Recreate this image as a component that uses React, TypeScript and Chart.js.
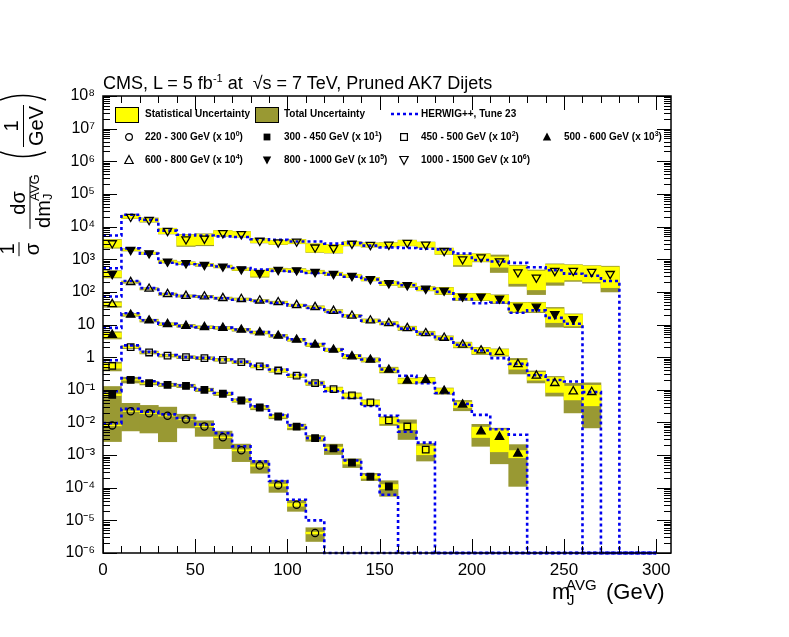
import React, { useEffect, useRef } from 'react';
import { Chart, registerables } from 'chart.js';

Chart.register(...registerables);

const FONT = "'Liberation Sans', Arial, Helvetica, sans-serif";
const OLIVE = 'rgb(153,153,51)';
const YELLOW = 'rgb(255,255,0)';
const HERWIG_BLUE = 'rgb(0,0,240)';
const FLOOR = 1e-6;

// bin centres of the 10 GeV wide jet-mass bins
const massBins = [5, 15, 25, 35, 45, 55, 65, 75, 85, 95, 105, 115, 125, 135, 145, 155, 165, 175, 185, 195, 205, 215, 225, 235, 245, 255, 265, 275];

const xTicks = [0, 50, 100, 150, 200, 250, 300];
const yTicks = [1e-6, 1e-5, 1e-4, 1e-3, 1e-2, 1e-1, 1, 10, 1e2, 1e3, 1e4, 1e5, 1e6, 1e7, 1e8];
const yTickText = ['10⁻⁶', '10⁻⁵', '10⁻⁴', '10⁻³', '10⁻²', '10⁻¹', '1', '10', '10²', '10³', '10⁴', '10⁵', '10⁶', '10⁷', '10⁸'];

// values as plotted (already multiplied by the legend factor), relative stat / total errors
const meas220 = [0.0081, 0.022, 0.019, 0.016, 0.0123, 0.0075, 0.0035, 0.0014, 0.00048, 0.00012, 0.00003, 0.0000041];
const stat220 = [0.03, 0.02, 0.02, 0.02, 0.02, 0.02, 0.03, 0.04, 0.05, 0.07, 0.1, 0.06];
const tot220 = [0.68, 0.75, 0.75, 0.84, 0.45, 0.5, 0.55, 0.55, 0.42, 0.4, 0.37, 0.45];
const herwig220 = [0.0095, 0.026, 0.0215, 0.0177, 0.0135, 0.0086, 0.0047, 0.00185, 0.00064, 0.00016, 0.000043, 0.00001];

const meas300 = [0.07, 0.202, 0.16, 0.142, 0.132, 0.1, 0.0755, 0.047, 0.0287, 0.0152, 0.0074, 0.0033, 0.0016, 0.00059, 0.00022, 0.000109];
const stat300 = [0.05, 0.03, 0.03, 0.03, 0.03, 0.03, 0.04, 0.05, 0.05, 0.06, 0.07, 0.08, 0.1, 0.1, 0.12, 0.15];
const tot300 = [0.8, 0.2, 0.12, 0.12, 0.12, 0.12, 0.12, 0.12, 0.15, 0.15, 0.2, 0.2, 0.35, 0.3, 0.25, 0.5];
const herwig300 = [0.09, 0.227, 0.182, 0.145, 0.135, 0.1, 0.08, 0.05, 0.031, 0.017, 0.0081, 0.0033, 0.00146, 0.00068, 0.00025, 0.000061];

const meas450 = [0.54, 2.03, 1.39, 1.12, 1.0, 0.93, 0.83, 0.7, 0.52, 0.39, 0.27, 0.16, 0.105, 0.067, 0.041, 0.0115, 0.0075, 0.00146];
const stat450 = [0.15, 0.04, 0.04, 0.04, 0.04, 0.04, 0.05, 0.05, 0.06, 0.07, 0.08, 0.09, 0.1, 0.12, 0.14, 0.2, 0.2, 0.3];
const tot450 = [0.3, 0.1, 0.1, 0.1, 0.1, 0.1, 0.1, 0.1, 0.1, 0.12, 0.12, 0.15, 0.15, 0.2, 0.2, 0.3, 0.6, 0.55];
const herwig450 = [0.8, 2.3, 1.45, 1.15, 1.0, 0.95, 0.85, 0.72, 0.55, 0.42, 0.29, 0.16, 0.09, 0.056, 0.032, 0.016, 0.0052, 0.0024];

const meas500 = [4.8, 19.8, 13.2, 10.3, 9.1, 8.3, 7.9, 6.9, 5.7, 4.5, 3.4, 2.39, 1.68, 1.05, 0.83, 0.41, 0.19, 0.2, 0.093, 0.035, 0.0053, 0.0036, 0.0011];
const stat500 = [0.15, 0.03, 0.03, 0.03, 0.03, 0.04, 0.04, 0.05, 0.05, 0.06, 0.07, 0.08, 0.09, 0.1, 0.1, 0.13, 0.15, 0.15, 0.17, 0.2, 0.35, 0.65, 0.25];
const tot500 = [0.25, 0.1, 0.1, 0.1, 0.1, 0.1, 0.1, 0.1, 0.1, 0.1, 0.1, 0.12, 0.12, 0.15, 0.15, 0.2, 0.2, 0.2, 0.22, 0.35, 0.65, 0.85, 0.9];
const herwig500 = [7.9, 22, 13.5, 10.5, 9.0, 8.2, 8.0, 7.0, 5.9, 4.6, 3.5, 2.5, 1.7, 1.1, 0.85, 0.42, 0.27, 0.16, 0.08, 0.037, 0.017, 0.0062, 0.0042];

const meas600 = [42, 199, 124, 85, 75, 72, 64, 60, 54, 48, 39, 34, 26, 18.5, 13.2, 11, 7.7, 5.4, 3.9, 2.4, 1.6, 1.43, 0.61, 0.27, 0.16, 0.089, 0.085];
const stat600 = [0.1, 0.02, 0.02, 0.02, 0.02, 0.03, 0.03, 0.03, 0.04, 0.04, 0.05, 0.05, 0.06, 0.07, 0.08, 0.08, 0.1, 0.1, 0.1, 0.15, 0.2, 0.2, 0.3, 0.27, 0.48, 0.45, 0.62];
const tot600 = [0.2, 0.08, 0.08, 0.08, 0.08, 0.08, 0.08, 0.08, 0.08, 0.08, 0.08, 0.1, 0.1, 0.1, 0.12, 0.12, 0.15, 0.15, 0.15, 0.2, 0.25, 0.25, 0.5, 0.4, 0.6, 0.78, 0.92];
const herwig600 = [72, 215, 130, 88, 74, 70, 64, 58, 52, 46, 38, 32, 24, 18, 13, 10.5, 7.5, 5.2, 3.7, 2.4, 1.6, 0.93, 0.62, 0.28, 0.2, 0.18, 0.085];

const meas800 = [356, 1940, 1530, 850, 757, 672, 600, 495, 374, 472, 460, 410, 356, 309, 245, 185, 161, 126, 110, 72, 72, 62.5, 35.5, 35.5, 20.8, 14.6];
const stat800 = [0.2, 0.05, 0.05, 0.06, 0.06, 0.06, 0.06, 0.07, 0.2, 0.08, 0.08, 0.08, 0.08, 0.1, 0.1, 0.12, 0.12, 0.12, 0.22, 0.22, 0.22, 0.25, 0.3, 0.3, 0.45, 0.38];
const tot800 = [0.25, 0.08, 0.08, 0.1, 0.1, 0.1, 0.1, 0.1, 0.25, 0.12, 0.12, 0.12, 0.12, 0.12, 0.12, 0.15, 0.15, 0.15, 0.25, 0.25, 0.25, 0.3, 0.35, 0.35, 0.6, 0.45];
const herwig800 = [530, 2150, 1480, 780, 700, 650, 600, 540, 480, 440, 420, 380, 340, 290, 240, 190, 160, 125, 100, 60, 45, 47, 23, 27, 16, 10.5];

const meas1000 = [3100, 20000, 16000, 7400, 4100, 4300, 6300, 5900, 3700, 3300, 3500, 2300, 2200, 3000, 2750, 2800, 3200, 2800, 1800, 1000, 1150, 870, 400, 275, 440, 445, 410, 355];
const stat1000 = [0.25, 0.1, 0.12, 0.18, 0.35, 0.35, 0.18, 0.18, 0.13, 0.13, 0.13, 0.28, 0.28, 0.13, 0.13, 0.13, 0.18, 0.18, 0.2, 0.33, 0.25, 0.35, 0.55, 0.58, 0.55, 0.48, 0.5, 0.62];
const tot1000 = [0.3, 0.12, 0.15, 0.2, 0.4, 0.4, 0.2, 0.2, 0.15, 0.15, 0.15, 0.3, 0.3, 0.15, 0.15, 0.15, 0.2, 0.2, 0.22, 0.4, 0.28, 0.55, 0.63, 0.7, 0.64, 0.53, 0.55, 0.72];
const herwig1000 = [5300, 23000, 16000, 7500, 5600, 5300, 5000, 4800, 4100, 3900, 3500, 3500, 3000, 3100, 2600, 2300, 2200, 2100, 2000, 1500, 950, 850, 770, 570, 460, 360, 310, 215];

type Marker = 'circle' | 'rect' | 'triangle';
interface Series {
  meas: number[];
  stat: number[];
  tot: number[];
  herwig: number[];
  style: Marker;
  rotation: number;
  filled: boolean;
  radius: number;
}

const series: Series[] = [
  { meas: meas220, stat: stat220, tot: tot220, herwig: herwig220, style: 'circle', rotation: 0, filled: false, radius: 3.6 },
  { meas: meas300, stat: stat300, tot: tot300, herwig: herwig300, style: 'rect', rotation: 0, filled: true, radius: 4.6 },
  { meas: meas450, stat: stat450, tot: tot450, herwig: herwig450, style: 'rect', rotation: 0, filled: false, radius: 4.6 },
  { meas: meas500, stat: stat500, tot: tot500, herwig: herwig500, style: 'triangle', rotation: 0, filled: true, radius: 4.8 },
  { meas: meas600, stat: stat600, tot: tot600, herwig: herwig600, style: 'triangle', rotation: 0, filled: false, radius: 4.8 },
  { meas: meas800, stat: stat800, tot: tot800, herwig: herwig800, style: 'triangle', rotation: 180, filled: true, radius: 4.8 },
  { meas: meas1000, stat: stat1000, tot: tot1000, herwig: herwig1000, style: 'triangle', rotation: 180, filled: false, radius: 4.8 },
];

function buildDatasets() {
  const out: any[] = [];
  for (const s of series) {
    const band = (err: number[]) => s.meas.map((v, i) => ({ x: massBins[i], y: [v * (1 - err[i]), v * (1 + err[i])] }));
    out.push({
      type: 'bar', order: 3, data: band(s.tot), backgroundColor: OLIVE, borderWidth: 0,
      grouped: false, barPercentage: 1, categoryPercentage: 1,
    });
    out.push({
      type: 'bar', order: 2, data: band(s.stat), backgroundColor: YELLOW, borderWidth: 0,
      grouped: false, barPercentage: 1, categoryPercentage: 1,
    });
    // histogram steps: left edge of every bin, then drop to the floor
    const steps = s.herwig.map((v, i) => ({ x: massBins[i] - 5, y: v }));
    steps.push({ x: massBins[s.herwig.length - 1] + 5, y: FLOOR }, { x: 300, y: FLOOR });
    out.push({
      type: 'line', order: 1, data: steps, stepped: true, borderColor: HERWIG_BLUE, borderWidth: 2.6,
      borderDash: [3, 3], pointRadius: 0, fill: false, clip: false,
    });
    out.push({
      type: 'line', order: 0, showLine: false,
      data: s.meas.map((v, i) => ({ x: massBins[i], y: v })),
      pointStyle: s.style, pointRotation: s.rotation, pointRadius: s.radius,
      pointBorderColor: '#000', pointBackgroundColor: s.filled ? '#000' : 'rgba(0,0,0,0)', pointBorderWidth: 1.3,
    });
  }
  return out;
}

// ROOT-like frame with inward ticks on all four sides
const rootFrame = {
  id: 'rootFrame',
  afterDatasetsDraw(chart: any) {
    const { ctx, chartArea: a } = chart;
    const xs = chart.scales.x;
    const ys = chart.scales.y;
    ctx.save();
    ctx.strokeStyle = '#000';
    ctx.lineWidth = 1;
    ctx.beginPath();
    for (let m = 0; m <= 300; m += 10) {
      const px = Math.round(xs.getPixelForValue(m)) + 0.5;
      const len = m % 50 === 0 ? 14 : 7;
      ctx.moveTo(px, a.bottom); ctx.lineTo(px, a.bottom - len);
      ctx.moveTo(px, a.top); ctx.lineTo(px, a.top + len);
    }
    for (let e = -6; e <= 8; e++) {
      for (let k = 1; k <= 9; k++) {
        const v = k * Math.pow(10, e);
        if (v > 1.0001e8) break;
        const py = Math.round(ys.getPixelForValue(v)) + 0.5;
        const len = k === 1 ? 14 : 7;
        ctx.moveTo(a.left, py); ctx.lineTo(a.left + len, py);
        ctx.moveTo(a.right, py); ctx.lineTo(a.right - len, py);
      }
    }
    ctx.stroke();
    ctx.lineWidth = 1.5;
    ctx.strokeRect(a.left, a.top, a.right - a.left, a.bottom - a.top);
    ctx.restore();
  },
};

function Frac({ num, den, size = 20 }: { num: React.ReactNode; den: React.ReactNode; size?: number }) {
  return (
    <span style={{ display: 'inline-flex', flexDirection: 'column', alignItems: 'center', lineHeight: 1, fontSize: size }}>
      <span style={{ padding: '0 1px 2px' }}>{num}</span>
      <span style={{ borderTop: '1.5px solid #000', padding: '2px 1px 0', alignSelf: 'stretch', textAlign: 'center' }}>{den}</span>
    </span>
  );
}

// thin round bracket, drawn unrotated as "(" or ")"
function Paren({ right = false }: { right?: boolean }) {
  const d = right ? 'M2,1 Q11,24 2,47' : 'M10,1 Q1,24 10,47';
  return (
    <svg width={12} height={48} style={{ display: 'block' }}>
      <path d={d} fill="none" stroke="#000" strokeWidth={1.6} />
    </svg>
  );
}

const rotated = (cx: number, cy: number): React.CSSProperties => ({
  position: 'absolute', left: cx, top: cy, transform: 'translate(-50%, -50%) rotate(-90deg)',
  whiteSpace: 'nowrap', display: 'flex', alignItems: 'center',
});

function Sup({ children, size = 7, rise = 4 }: { children: React.ReactNode; size?: number; rise?: number }) {
  return <span style={{ fontSize: size, position: 'relative', top: -rise }}>{children}</span>;
}

function MarkerIcon({ kind, x, y }: { kind: string; x: number; y: number }) {
  let shape: React.ReactNode = null;
  if (kind === 'circle') shape = <circle cx={6} cy={6} r={3.4} fill="none" stroke="#000" strokeWidth={1.2} />;
  if (kind === 'sqFull') shape = <rect x={2.6} y={2.6} width={6.8} height={6.8} fill="#000" />;
  if (kind === 'sqOpen') shape = <rect x={2.6} y={2.6} width={6.8} height={6.8} fill="none" stroke="#000" strokeWidth={1.2} />;
  if (kind === 'upFull') shape = <polygon points="6,1.5 10.2,9.5 1.8,9.5" fill="#000" />;
  if (kind === 'upOpen') shape = <polygon points="6,1.5 10.2,9.5 1.8,9.5" fill="none" stroke="#000" strokeWidth={1.2} />;
  if (kind === 'dnFull') shape = <polygon points="6,10.5 10.2,2.5 1.8,2.5" fill="#000" />;
  if (kind === 'dnOpen') shape = <polygon points="6,10.5 10.2,2.5 1.8,2.5" fill="none" stroke="#000" strokeWidth={1.2} />;
  return (
    <svg width={12} height={12} style={{ position: 'absolute', left: x - 6, top: y - 6 }}>{shape}</svg>
  );
}

function LegendText({ x, y, children }: { x: number; y: number; children: React.ReactNode }) {
  return (
    <div style={{ position: 'absolute', left: x, top: y - 6, fontSize: 10, lineHeight: '12px', fontWeight: 'bold', whiteSpace: 'nowrap' }}>
      {children}
    </div>
  );
}

export default function App() {
  const canvasRef = useRef<HTMLCanvasElement | null>(null);

  useEffect(() => {
    const canvas = canvasRef.current;
    if (!canvas) return;
    const chart = new Chart(canvas, {
      type: 'line',
      data: { datasets: buildDatasets() },
      options: {
        responsive: false,
        animation: false,
        events: [],
        layout: { padding: { top: 96, right: 118, bottom: 0, left: 0 } },
        plugins: { legend: { display: false }, tooltip: { enabled: false } },
        scales: {
          x: {
            type: 'linear', min: 0, max: 308, offset: false,
            afterBuildTicks: (s: any) => { s.ticks = xTicks.map((v) => ({ value: v })); },
            afterFit: (s: any) => { s.height = 84; },
            grid: { display: false, drawTicks: false },
            border: { display: false },
            ticks: {
              color: '#000', font: { family: FONT, size: 17 }, padding: 7, maxRotation: 0, autoSkip: false,
              callback: (v: any) => String(v),
            },
          },
          y: {
            type: 'logarithmic', min: 1e-6, max: 1e8,
            afterBuildTicks: (s: any) => { s.ticks = yTicks.map((v) => ({ value: v })); },
            afterFit: (s: any) => { s.width = 103; },
            grid: { display: false, drawTicks: false },
            border: { display: false },
            ticks: {
              color: '#000', font: { family: FONT, size: 16 }, padding: 8, autoSkip: false,
              callback: (_v: any, i: number) => yTickText[i],
            },
          },
        },
      },
      plugins: [rootFrame],
    } as any);
    return () => chart.destroy();
  }, []);

  return (
    <div style={{ position: 'absolute', left: 0, top: 0, width: 789, height: 637, background: '#fff', fontFamily: FONT, color: '#000' }}>
      <canvas ref={canvasRef} width={789} height={637} style={{ position: 'absolute', left: 0, top: 0 }} />

      <div style={{ position: 'absolute', left: 103, top: 74, fontSize: 18, lineHeight: '18px', whiteSpace: 'nowrap' }}>
        CMS, L = 5 fb<Sup size={11} rise={7}>-1</Sup> at &nbsp;√s = 7 TeV, Pruned AK7 Dijets
      </div>

      {/* legend */}
      <div style={{ position: 'absolute', left: 115, top: 107, width: 22, height: 14, background: YELLOW, border: '1px solid #000' }} />
      <LegendText x={145} y={114}>Statistical Uncertainty</LegendText>
      <div style={{ position: 'absolute', left: 255, top: 107, width: 22, height: 14, background: OLIVE, border: '1px solid #000' }} />
      <LegendText x={284} y={114}>Total Uncertainty</LegendText>
      <svg width={28} height={6} style={{ position: 'absolute', left: 391, top: 111 }}>
        <line x1={0} y1={3} x2={27} y2={3} stroke={HERWIG_BLUE} strokeWidth={2.6} strokeDasharray="3 3" />
      </svg>
      <LegendText x={421} y={114}>HERWIG++, Tune 23</LegendText>

      <MarkerIcon kind="circle" x={129} y={137} />
      <LegendText x={145} y={137}>220 - 300 GeV (x 10<Sup>0</Sup>)</LegendText>
      <MarkerIcon kind="sqFull" x={267} y={137} />
      <LegendText x={284} y={137}>300 - 450 GeV (x 10<Sup>1</Sup>)</LegendText>
      <MarkerIcon kind="sqOpen" x={404} y={137} />
      <LegendText x={421} y={137}>450 - 500 GeV (x 10<Sup>2</Sup>)</LegendText>
      <MarkerIcon kind="upFull" x={547} y={137} />
      <LegendText x={564} y={137}>500 - 600 GeV (x 10<Sup>3</Sup>)</LegendText>

      <MarkerIcon kind="upOpen" x={129} y={160} />
      <LegendText x={145} y={160}>600 - 800 GeV (x 10<Sup>4</Sup>)</LegendText>
      <MarkerIcon kind="dnFull" x={267} y={160} />
      <LegendText x={284} y={160}>800 - 1000 GeV (x 10<Sup>5</Sup>)</LegendText>
      <MarkerIcon kind="dnOpen" x={404} y={160} />
      <LegendText x={421} y={160}>1000 - 1500 GeV (x 10<Sup>6</Sup>)</LegendText>

      {/* y axis title */}
      <div style={rotated(19, 249)}>
        <Frac num="1" den="σ" />
      </div>
      <div style={rotated(30, 203)}>
        <Frac
          num="dσ"
          den={
            <span style={{ position: 'relative', paddingRight: 22 }}>
              dm
              <span style={{ position: 'absolute', left: 27, top: -4, fontSize: 13 }}>AVG</span>
              <span style={{ position: 'absolute', left: 28, top: 9, fontSize: 13 }}>J</span>
            </span>
          }
        />
      </div>
      <div style={rotated(23, 126)}>
        <Paren />
        <span style={{ width: 3 }} />
        <Frac num="1" den="GeV" />
        <span style={{ width: 3 }} />
        <Paren right />
      </div>

      {/* x axis title */}
      <div style={{ position: 'absolute', left: 552, top: 581, fontSize: 22, lineHeight: '22px' }}>m</div>
      <div style={{ position: 'absolute', left: 566, top: 577, fontSize: 15, lineHeight: '15px' }}>AVG</div>
      <div style={{ position: 'absolute', left: 567, top: 592, fontSize: 15, lineHeight: '15px' }}>J</div>
      <div style={{ position: 'absolute', left: 606, top: 581, fontSize: 22, lineHeight: '22px', whiteSpace: 'nowrap' }}>(GeV)</div>
    </div>
  );
}
